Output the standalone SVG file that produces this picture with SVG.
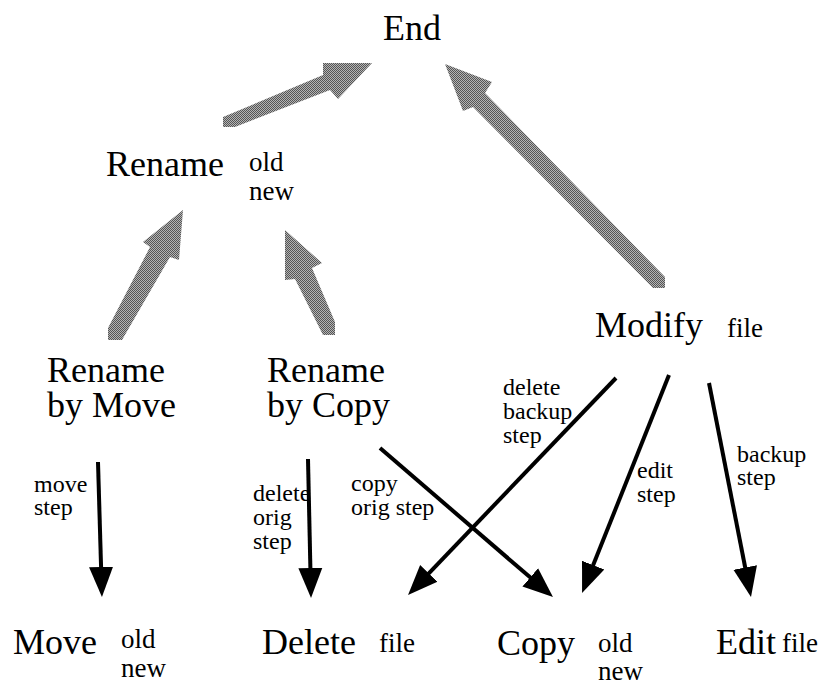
<svg xmlns="http://www.w3.org/2000/svg" width="838" height="684" viewBox="0 0 838 684">
  <style>
    text { font-family: "Liberation Serif", "Times New Roman", serif; fill: #000; }
    .big { font-size: 36px; }
    .arg { font-size: 27px; }
    .lbl { font-size: 24px; }
    .fat { fill: url(#dither); }
    .thin { stroke: #000; stroke-width: 4; fill: none; marker-end: url(#head); }
  </style>
  <defs>
    <!-- dithered grey used by the wide arrows -->
    <pattern id="dither" width="2" height="2" patternUnits="userSpaceOnUse">
      <rect width="2" height="2" fill="#b4b4b4"/>
      <rect width="1" height="1" fill="#555"/>
      <rect x="1" y="1" width="1" height="1" fill="#555"/>
    </pattern>
    <marker id="head" markerUnits="userSpaceOnUse" markerWidth="32" markerHeight="28" viewBox="-1 -14 32 28" refX="0" refY="0" orient="auto">
      <path d="M-1,-12 L29,0 L-1,12 Z" fill="#000"/>
    </marker>
  </defs>

  <rect width="838" height="684" fill="#fff"/>

  <!-- connectors -->
  <g id="connectors">
    <!-- wide grey arrows -->
    <polygon class="fat" points="223,117 323,75 323,63 372,63 338,99 330,90 235,127 223,127"/>
    <polygon class="fat" points="445,64 492,82 485,93 665,277 665,288 653,288 473,107 463,111"/>
    <polygon class="fat" points="183,210 179,260 170,257 122,340 108,340 108,328 150,247 143,242"/>
    <polygon class="fat" points="285,230 322,263 312,268 335,322 335,335 323,335 295,279 285,280"/>

    <!-- thin black step arrows -->
    <line class="thin" x1="98" y1="462" x2="101.1" y2="568"/>
    <line class="thin" x1="308" y1="459" x2="310.4" y2="569"/>
    <line class="thin" x1="380" y1="448" x2="531" y2="578.1"/>
    <line class="thin" x1="616" y1="378" x2="428.1" y2="574.1"/>
    <line class="thin" x1="669" y1="375" x2="592.8" y2="566.1"/>
    <line class="thin" x1="709" y1="383" x2="745.4" y2="568.5"/>

    <!-- step labels -->
    <g class="lbl">
      <text x="34" y="492">move</text>
      <text x="34" y="515">step</text>
      <text x="253" y="501">delete</text>
      <text x="253" y="525">orig</text>
      <text x="253" y="549">step</text>
      <text x="351" y="491">copy</text>
      <text x="351" y="515">orig step</text>
      <text x="503" y="395">delete</text>
      <text x="503" y="419">backup</text>
      <text x="503" y="443">step</text>
      <text x="637" y="478">edit</text>
      <text x="637" y="502">step</text>
      <text x="737" y="462">backup</text>
      <text x="737" y="485">step</text>
    </g>
  </g>

  <!-- nodes -->
  <g id="node-end">
    <text class="big" x="383" y="40">End</text>
  </g>
  <g id="node-rename">
    <text class="big" x="106" y="176">Rename</text>
    <text class="arg" x="249" y="171">old</text>
    <text class="arg" x="249" y="200">new</text>
  </g>
  <g id="node-rename-by-move">
    <text class="big" x="47" y="382">Rename</text>
    <text class="big" x="47" y="417">by Move</text>
  </g>
  <g id="node-rename-by-copy">
    <text class="big" x="267" y="382">Rename</text>
    <text class="big" x="267" y="417">by Copy</text>
  </g>
  <g id="node-modify">
    <text class="big" x="595" y="337">Modify</text>
    <text class="arg" x="727" y="337">file</text>
  </g>
  <g id="node-move">
    <text class="big" x="13" y="654">Move</text>
    <text class="arg" x="121" y="648">old</text>
    <text class="arg" x="121" y="677">new</text>
  </g>
  <g id="node-delete">
    <text class="big" x="262" y="654">Delete</text>
    <text class="arg" x="379" y="652">file</text>
  </g>
  <g id="node-copy">
    <text class="big" x="497" y="655">Copy</text>
    <text class="arg" x="598" y="652">old</text>
    <text class="arg" x="598" y="680">new</text>
  </g>
  <g id="node-edit">
    <text class="big" x="716" y="654">Edit</text>
    <text class="arg" x="782" y="652">file</text>
  </g>
</svg>
